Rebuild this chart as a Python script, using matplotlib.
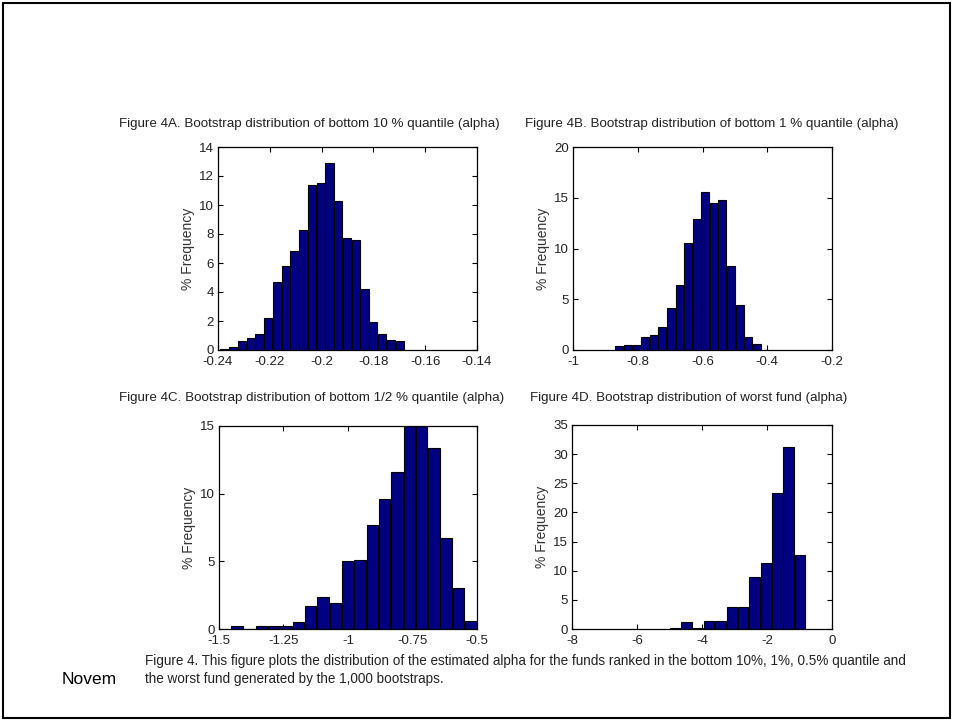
import numpy as np
import matplotlib
matplotlib.use("Agg")
from matplotlib import pyplot as plt
from matplotlib.patches import Rectangle

plt.rcParams['axes.unicode_minus'] = False
plt.rcParams['font.family'] = ['Liberation Sans', 'DejaVu Sans']

# % frequency per bin (1,000 bootstraps) and the span covered by the bins
a_counts = [0.1, 0.2, 0.6, 0.8, 1.1, 2.2, 4.7, 5.8, 6.8, 8.3, 11.4, 11.5,
            12.9, 10.3, 7.7, 7.6, 4.2, 1.9, 1.1, 0.7, 0.6]
a_span = (-0.2392, -0.1682)

b_counts = [0.4, 0.5, 0.5, 1.3, 1.5, 2.3, 4.1, 6.4, 10.5, 12.9, 15.6, 14.5,
            14.8, 8.3, 4.4, 1.3, 0.6]
b_span = (-0.870, -0.419)

c_counts = [0.2, 0.0, 0.2, 0.2, 0.2, 0.5, 1.7, 2.4, 1.9, 5.0, 5.1, 7.7,
            9.6, 11.6, 15.5, 15.8, 13.4, 6.7, 3.0, 0.6]
c_span = (-1.4547, -0.5)

d_counts = [0.2, 1.2, 0.2, 1.4, 1.4, 3.8, 3.8, 9.0, 11.3, 23.3, 31.3, 12.7]
d_span = (-5.006, -0.809)

a_xticks = [-0.24, -0.22, -0.2, -0.18, -0.16, -0.14]
a_xlabels = ['-0.24', '-0.22', '-0.2', '-0.18', '-0.16', '-0.14']
a_yticks = [0, 2, 4, 6, 8, 10, 12, 14]

b_xticks = [-1, -0.8, -0.6, -0.4, -0.2]
b_xlabels = ['-1', '-0.8', '-0.6', '-0.4', '-0.2']
b_yticks = [0, 5, 10, 15, 20]

c_xticks = [-1.5, -1.25, -1, -0.75, -0.5]
c_xlabels = ['-1.5', '-1.25', '-1', '-0.75', '-0.5']
c_yticks = [0, 5, 10, 15]

d_xticks = [-8, -6, -4, -2, 0]
d_xlabels = ['-8', '-6', '-4', '-2', '0']
d_yticks = [0, 5, 10, 15, 20, 25, 30, 35]

titles = [
    'Figure 4A. Bootstrap distribution of bottom 10 % quantile (alpha)',
    'Figure 4B. Bootstrap distribution of bottom 1 % quantile (alpha)',
    'Figure 4C. Bootstrap distribution of bottom 1/2 % quantile (alpha)',
    'Figure 4D. Bootstrap distribution of worst fund (alpha)',
]
caption = ['Figure 4. This figure plots the distribution of the estimated alpha '
           'for the funds ranked in the bottom 10%, 1%, 0.5% quantile and',
           'the worst fund generated by the 1,000 bootstraps.']

W, H = 960, 721


def px_axes(fig, left, top, right, bottom):
    return fig.add_axes([left / W, 1 - bottom / H, (right - left) / W,
                         (bottom - top) / H])


def hist_panel(ax, counts, span, xticks, xlabels, yticks):
    edges = np.linspace(span[0], span[1], len(counts) + 1)
    centers = (edges[:-1] + edges[1:]) / 2
    width = (edges[1] - edges[0]) * 0.93
    ax.bar(centers, counts, width=width, color='#000080',
           edgecolor='black', linewidth=0.8, zorder=2)
    ax.set_xlim(xticks[0], xticks[-1])
    ax.set_ylim(yticks[0], yticks[-1])
    ax.set_xticks(xticks)
    ax.set_xticklabels(xlabels)
    ax.set_yticks(yticks)
    ax.tick_params(direction='in', top=True, right=True, length=3.5,
                   width=0.8, labelsize=9.5, colors='black',
                   labelcolor='#222222')
    ax.tick_params(axis='x', pad=4)
    ax.tick_params(axis='y', pad=3)
    for s in ax.spines.values():
        s.set_linewidth(0.9)
        s.set_zorder(3)
    ax.set_ylabel('% Frequency', fontsize=10, color='#333333')
    ax.yaxis.set_label_coords(-0.088, 0.5)


fig = plt.figure(figsize=(W / 100, H / 100), dpi=100)

ax_a = px_axes(fig, 218, 147, 477, 350)
hist_panel(ax_a, a_counts, a_span, a_xticks, a_xlabels, a_yticks)
ax_b = px_axes(fig, 573, 147, 832, 350)
hist_panel(ax_b, b_counts, b_span, b_xticks, b_xlabels, b_yticks)
ax_c = px_axes(fig, 219, 426, 477, 629)
hist_panel(ax_c, c_counts, c_span, c_xticks, c_xlabels, c_yticks)
ax_d = px_axes(fig, 572, 425, 832, 629)
hist_panel(ax_d, d_counts, d_span, d_xticks, d_xlabels, d_yticks)

# panel headings sit above each plot, left aligned
for (x, y), t in zip([(119, 124), (525, 124), (119, 398), (530, 398)], titles):
    fig.text(x / W, 1 - y / H, t, ha='left', va='center', fontsize=9.6,
             color='#222222')

fig.text(145 / W, 1 - 661 / H, caption[0], ha='left', va='center',
         fontsize=9.75, color='#222222')
fig.text(145 / W, 1 - 679 / H, caption[1], ha='left', va='center',
         fontsize=9.75, color='#222222')

fig.text(62 / W, 1 - 679 / H, 'Novem', ha='left', va='center',
         fontsize=12.5, color='black')

# slide frame
fig.patches.append(Rectangle((3 / W, 3 / H), (950 - 3) / W, (718 - 3) / H,
                             transform=fig.transFigure, fill=False,
                             linewidth=1.5, edgecolor='black'))

fig.savefig('out.png', dpi=100)
